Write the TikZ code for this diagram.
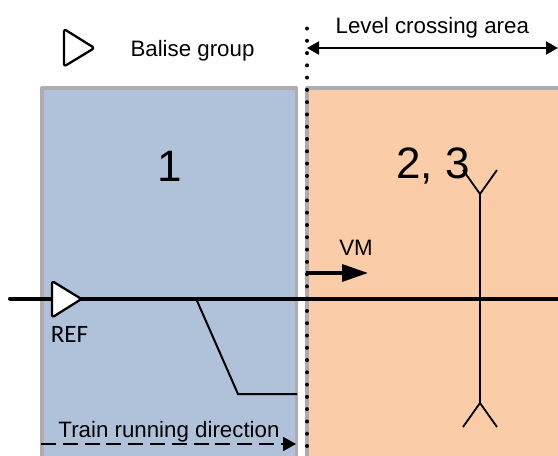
\documentclass[tikz,border=0pt]{standalone}
\usepackage{fontspec}
\setmainfont{Liberation Sans}
\newfontfamily\reffont{Carlito}
\usetikzlibrary{arrows.meta}
\definecolor{zoneblue}{HTML}{B0C2DA}
\definecolor{zoneorange}{HTML}{FACDA8}
\definecolor{zonegray}{HTML}{ADADAD}
\tikzset{
  x=1pt,y=-1pt,
  zone/.style={draw=zonegray,line width=3.8pt,line join=round},
  lbl/.style={inner sep=0pt,font=\fontsize{22.3}{26}\selectfont},
  big/.style={inner sep=0pt,font=\fontsize{44}{50}\selectfont},
  balise/.style={draw=black,fill=white,line width=2.3pt,rounded corners=2.5pt,line join=round},
  trackline/.style={line width=4pt,line cap=round},
  thinline/.style={line width=1.8pt},
  dots/.style={line width=4pt,line cap=round,dash pattern=on 0pt off 12.28pt},
}
\begin{document}
\begin{tikzpicture}
\useasboundingbox (0,0) rectangle (558,456);
\clip (0,0) rectangle (558,456);
\draw[zone,fill=zoneblue] (42,88.2) rectangle (296.5,470);
\draw[zone,fill=zoneorange] (307,88.2) rectangle (580,470);
\node[big] (one) at (169.5,166) {1};
\node[big] (twothree) at (433,166) {2, 3};
% coordinates
\coordinate (trackA) at (10,298.5);
\coordinate (trackB) at (558,298.5);
\coordinate (sw1) at (196,298.5);
\coordinate (sw2) at (238,394);
\coordinate (sw3) at (297,394);
\coordinate (crossT) at (480,194);
\coordinate (crossB) at (480,403);
\coordinate (tl) at (463,170);
\coordinate (tr) at (497,170);
\coordinate (bl) at (463,427);
\coordinate (br) at (497,427);
\coordinate (lcA) at (307,48);
\coordinate (lcB) at (558,48);
\coordinate (vmA) at (306,273);
\coordinate (vmB) at (368,273);
\coordinate (dirA) at (41,444);
\coordinate (dirB) at (296,444);
\coordinate (dotA) at (307,28.5);
\coordinate (dotB) at (307,456);
% track
\draw[trackline] (trackA) -- (trackB);
\draw[line width=2pt,line join=miter] (sw1) -- (sw2) -- (sw3);
\draw[thinline] (tl) -- (crossT) -- (tr) (crossT) -- (crossB) (bl) -- (crossB) -- (br);
% balises
\draw[balise] (52,281) -- (81.5,299) -- (52,317.5) -- cycle;
\draw[balise] (64,29) -- (94.5,48) -- (64,66.5) -- cycle;
% arrows
\draw[line width=2pt,{Triangle[length=12pt,width=13pt]}-{Triangle[length=12pt,width=13pt]}] (lcA) -- (lcB);
\draw[line width=3.4pt,-{Triangle[length=26pt,width=17pt]}] (vmA) -- (vmB);
\draw[line width=1.8pt,dash pattern=on 15pt off 6.8pt,-{Triangle[length=13pt,width=14pt]}] (dirA) -- (dirB);
\draw[dots] (dotA) -- (dotB);
% labels
\node[lbl,anchor=base] (bg) at (192.5,56) {Balise group};
\node[lbl,anchor=base] (lc) at (432.3,33) {Level crossing area};
\node[lbl,anchor=base] (vm) at (356,255) {VM};
\node[lbl,anchor=base] (dir) at (169,437) {Train running direction};
\node[inner sep=0pt,anchor=base,font=\reffont\fontsize{25}{28}\selectfont] (ref) at (69.5,342) {REF};
\end{tikzpicture}
\end{document}
